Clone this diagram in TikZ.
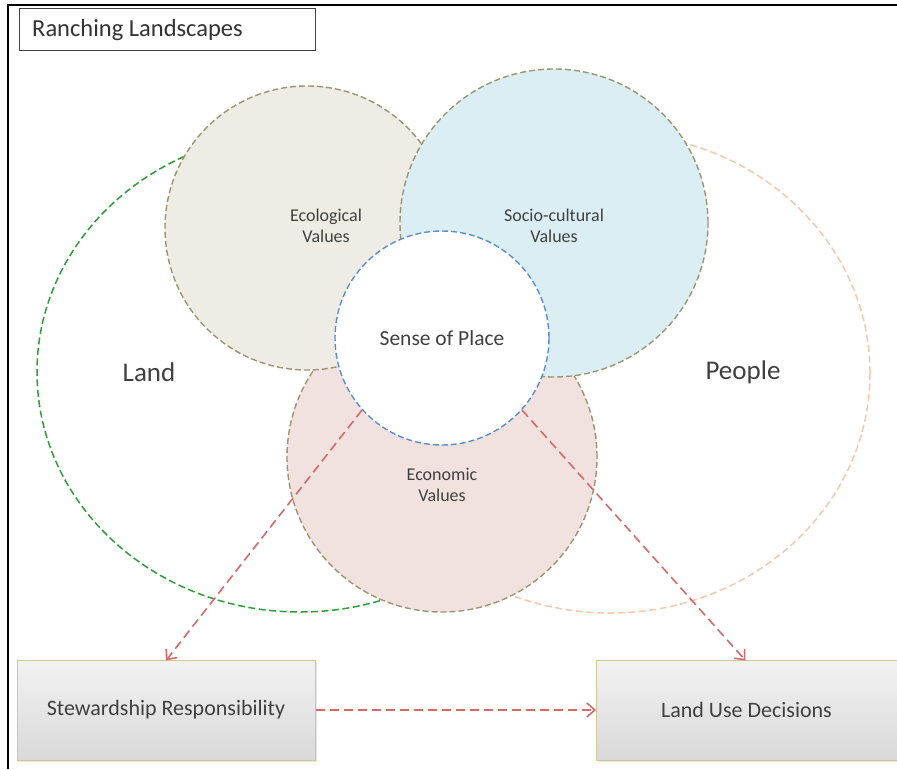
\documentclass[tikz,border=0pt]{standalone}
\usepackage{fontspec}
\setmainfont{Carlito}
\usetikzlibrary{arrows.meta,shadows,shapes.geometric}
\definecolor{ecofill}{HTML}{EEECE5}
\definecolor{sociofill}{HTML}{DBEEF3}
\definecolor{econfill}{HTML}{F2E2DF}
\definecolor{khaki}{HTML}{9D9572}
\definecolor{landgreen}{HTML}{2E9E3A}
\definecolor{peach}{HTML}{F5C9AC}
\definecolor{senseblue}{HTML}{5B8FCB}
\definecolor{arrowred}{HTML}{D46A6A}
\definecolor{boxedge}{HTML}{CFC894}
\definecolor{txt}{HTML}{404040}
\tikzset{
  valcircle/.style={circle, draw=khaki, line width=1.4pt, dash pattern=on 6pt off 3pt, inner sep=0pt, align=center, text=txt, font=\fontsize{18}{21}\selectfont},
  bigell/.style={ellipse, line width=1.5pt, dash pattern=on 7pt off 3.5pt},
  flowarrow/.style={draw=arrowred, line width=1.6pt, dash pattern=on 9pt off 5pt, -{Straight Barb[length=8pt,width=14pt,line width=1.6pt]}},
  outbox/.style={rectangle, draw=boxedge, line width=1pt, top color=white!95!black, bottom color=white!85!black, minimum height=100pt, inner sep=0pt, text=txt, font=\fontsize{22}{26}\selectfont, drop shadow={opacity=0.2, shadow xshift=1.5pt, shadow yshift=-2pt}},
  biglabel/.style={text=txt, font=\fontsize{27}{32}\selectfont}
}
\begin{document}
\begin{tikzpicture}[x=1pt,y=-1pt]
\useasboundingbox (0,0) rectangle (897,769);
\fill[white] (0,0) rectangle (897,769);
% frame
\draw[black, line width=2.4pt] (8,769) -- (8,5) -- (897,5);
% title
\node[draw=black!75, line width=1.2pt, minimum width=296pt, minimum height=42pt, anchor=north west, inner sep=0pt] (title) at (19,8) {};
\node[anchor=west, text=black!80, font=\fontsize{24.5}{28}\selectfont, inner sep=0pt] (titletext) at (32,30) {Ranching Landscapes};
% large ellipses
\node[bigell, draw=landgreen, minimum width=526pt, minimum height=480pt] (land) at (300,372) {};
\node[bigell, draw=peach, minimum width=520pt, minimum height=480pt] (people) at (610,373) {};
% value circles
\node[valcircle, fill=econfill, minimum size=310pt] (econ) at (442,457) {};
\node[valcircle, fill=ecofill, minimum size=284pt] (eco) at (307,228) {};
\node[valcircle, fill=sociofill, minimum size=308pt] (socio) at (554,223) {};
\node[circle, draw=senseblue, fill=white, line width=1.4pt, dash pattern=on 6pt off 3pt, minimum size=214pt, inner sep=0pt, text=txt, font=\fontsize{21.5}{25}\selectfont] (sense) at (442,338) {Sense of Place};
% value labels
\node[text=txt, align=center, font=\fontsize{18}{21}\selectfont] (ecolab) at (326,226) {Ecological\\Values};
\node[text=txt, align=center, font=\fontsize{18}{21}\selectfont] (sociolab) at (554,226) {Socio-cultural\\Values};
\node[text=txt, align=center, font=\fontsize{18}{21}\selectfont] (econlab) at (442,485) {Economic\\Values};
\node[biglabel] (landlab) at (149,372) {Land};
\node[biglabel] (peoplelab) at (743,372) {People};
% boxes
\node[outbox, minimum width=298pt] (stew) at (166,710) {Stewardship Responsibility};
\node[outbox, minimum width=312pt, anchor=west] (lud) at (596,710) {\hspace*{-12pt}Land Use Decisions};
% arrows
\draw[flowarrow] (sense.222) -- ([yshift=-1pt]stew.north);
\draw[flowarrow] (sense.318) -- ([xshift=-7pt,yshift=-1pt]lud.north);
\draw[flowarrow] (stew.east) -- (lud.west);
\end{tikzpicture}
\end{document}
